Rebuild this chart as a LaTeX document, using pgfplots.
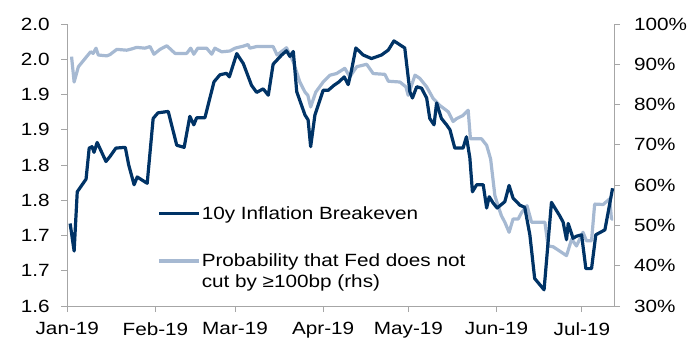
\documentclass[border=0pt]{standalone}
\usepackage{fontspec}
\setmainfont{Liberation Sans}[FakeStretch=1.17]
\usepackage{pgfplots}
\pgfplotsset{compat=1.18}
\definecolor{darkb}{RGB}{0,51,102}
\definecolor{lightb}{RGB}{166,185,210}
\definecolor{axgray}{RGB}{166,166,166}
\newcommand{\cf}{\fontsize{17.7bp}{21bp}\selectfont}
\pgfplotsset{common/.style={
  scale only axis, width=546.7bp, height=282bp,
  xmin=0, xmax=192.3,
  at={(0,0)}, anchor=south west,
  tick align=outside, major tick length=6bp,
  tick style={axgray, line width=0.8bp},
  axis line style={-, axgray, line width=0.8bp},
  tick label style={font=\cf, inner sep=0pt},
  /pgf/number format/assume math mode=true,
},
twoline legend/.style={legend image code/.code={\draw[##1] (0bp,10.5bp) -- (40bp,10.5bp); \path[draw=none] (0bp,-10.5bp) -- (0bp,12.1bp);}},
}
\begin{document}
\begin{tikzpicture}
\path[use as bounding box] (-67.3bp,-38bp) rectangle (620.7bp,306bp);
% right axis: probability
\begin{axis}[common,
  axis x line=none, axis y line*=right,
  ymin=30, ymax=100,
  ytick={30,40,50,60,70,80,90,100},
  yticklabels={30\%,40\%,50\%,60\%,70\%,80\%,90\%,100\%},
  yticklabel style={anchor=west, xshift=14bp},
]
\addplot[lightb, line width=3.2bp, line join=round] coordinates {
(1.5,91.9) (2.4,85.6) (3.9,89.4) (6.8,91.9) (8.2,93.1) (9.1,92.7) (10.1,94.0) (10.9,92.3) (13.9,92.1) (15.0,92.4) (17.4,93.7) (20.9,93.5) (22.6,93.8) (24.4,94.2) (27.3,94.0) (29.1,94.4) (30.5,92.5) (32.6,93.7) (35.0,94.6) (37.9,92.7) (42.0,92.7) (43.4,94.0) (44.5,92.5) (45.9,94.0) (49.0,94.0) (50.8,92.5) (51.9,94.0) (54.3,93.1) (57.2,93.3) (59.0,94.0) (61.9,94.5) (63.6,94.9) (64.2,94.0) (66.6,94.4) (72.4,94.4) (73.8,92.3) (77.1,94.1) (79.5,90.6) (81.8,85.6) (83.6,83.1) (84.6,82.3) (85.6,79.4) (87.4,83.1) (90.0,85.6) (92.4,87.3) (94.7,87.7) (97.6,89.0) (99.4,86.9) (101.8,89.4) (105.3,90.0) (107.6,87.7) (111.7,87.5) (112.9,85.8) (117.0,85.6) (119.1,84.4) (119.9,82.3) (122.3,87.3) (124.0,86.5) (126.4,84.4) (128.7,81.5) (131.0,79.8) (134.0,78.2) (135.7,75.8) (136.9,76.5) (139.2,77.3) (141.0,78.6) (141.8,71.5) (145.7,71.5) (147.5,69.9) (148.9,66.5) (150.4,57.4) (151.5,54.9) (152.7,52.4) (153.9,50.8) (155.4,48.3) (156.8,51.6) (158.6,51.6) (159.8,53.2) (161.7,54.9) (163.3,50.8) (168.0,50.8) (169.1,44.9) (170.9,44.7) (175.6,42.5) (177.4,46.6) (179.1,44.9) (181.4,48.3) (182.6,46.2) (184.4,46.2) (185.5,55.3) (188.5,55.2) (190.8,56.6) (191.4,51.6) (192.0,51.6)
};
\end{axis}
% left axis: breakeven
\begin{axis}[common,
  axis x line*=bottom, axis y line*=left,
  ymin=1.6, ymax=2.0,
  ytick={1.6,1.65,1.7,1.75,1.8,1.85,1.9,1.95,2.0},
  yticklabels={1.6,1.7,1.7,1.8,1.8,1.9,1.9,2.0,2.0},
  yticklabel style={anchor=east, xshift=-11.5bp},
  xtick={0,31,59,90,120,151,181},
  xticklabels={Jan-19,Feb-19,Mar-19,Apr-19,May-19,Jun-19,Jul-19},
  xticklabel style={anchor=north, yshift=-10bp},
  legend image code/.code={\draw[#1] (0bp,0bp) -- (40bp,0bp);},
  legend style={draw=none, fill=none, font=\cf, at={(0.164,0.358)}, anchor=north west,
    inner sep=0pt, row sep=30bp, cells={anchor=west, align=left},
    nodes={inner sep=1.4bp}},
]
\addplot[darkb, line width=3.2bp, line join=round] coordinates {
(1,1.717) (2.4,1.678) (3.5,1.762) (6.6,1.780) (7.7,1.824) (8.7,1.826) (9.4,1.818) (10.5,1.832) (13.6,1.805) (15.0,1.812) (17.1,1.824) (20.4,1.825) (21.6,1.800) (23.5,1.772) (24.6,1.783) (28.1,1.774) (30.2,1.866) (31.9,1.874) (35.5,1.876) (38.5,1.828) (41.1,1.825) (43.1,1.869) (44.5,1.857) (45.5,1.867) (48.4,1.867) (51.6,1.918) (53.7,1.928) (56.0,1.930) (57.0,1.925) (59.6,1.958) (61.9,1.944) (64.8,1.913) (66.6,1.903) (68.9,1.908) (70.7,1.899) (72.4,1.943) (75.4,1.956) (77.1,1.962) (78.3,1.954) (79.5,1.961) (80.7,1.904) (83.6,1.871) (84.7,1.864) (85.6,1.826) (87.1,1.871) (90.0,1.906) (91.8,1.906) (93.8,1.913) (95.6,1.918) (97.4,1.925) (98.8,1.914) (100.0,1.935) (101.5,1.966) (104.1,1.956) (107.0,1.951) (110.5,1.956) (112.9,1.963) (114.9,1.976) (118.7,1.966) (120.5,1.904) (121.4,1.895) (122.9,1.911) (124.6,1.909) (126.4,1.895) (127.5,1.866) (129.0,1.857) (129.9,1.888) (131.6,1.866) (133.4,1.857) (134.6,1.850) (136.3,1.824) (139.2,1.824) (140.4,1.840) (141.6,1.810) (142.5,1.762) (144.0,1.772) (146.3,1.772) (147.5,1.739) (148.4,1.755) (149.8,1.746) (151.2,1.739) (153.9,1.748) (155.4,1.771) (156.8,1.753) (159.2,1.743) (160.9,1.740) (162.7,1.701) (164.4,1.639) (167.7,1.623) (170.3,1.747) (173.2,1.728) (174.4,1.719) (175.6,1.694) (176.2,1.717) (177.9,1.696) (179.1,1.699) (180.9,1.701) (182.4,1.653) (184.4,1.653) (185.9,1.701) (189.1,1.708) (191.8,1.767)
};
\addlegendentry{10y Inflation Breakeven}
\addlegendimage{lightb, line width=3.2bp, twoline legend}
\addlegendentry{Probability that Fed does not\\cut by ≥100bp (rhs)}
\end{axis}
\end{tikzpicture}
\end{document}
